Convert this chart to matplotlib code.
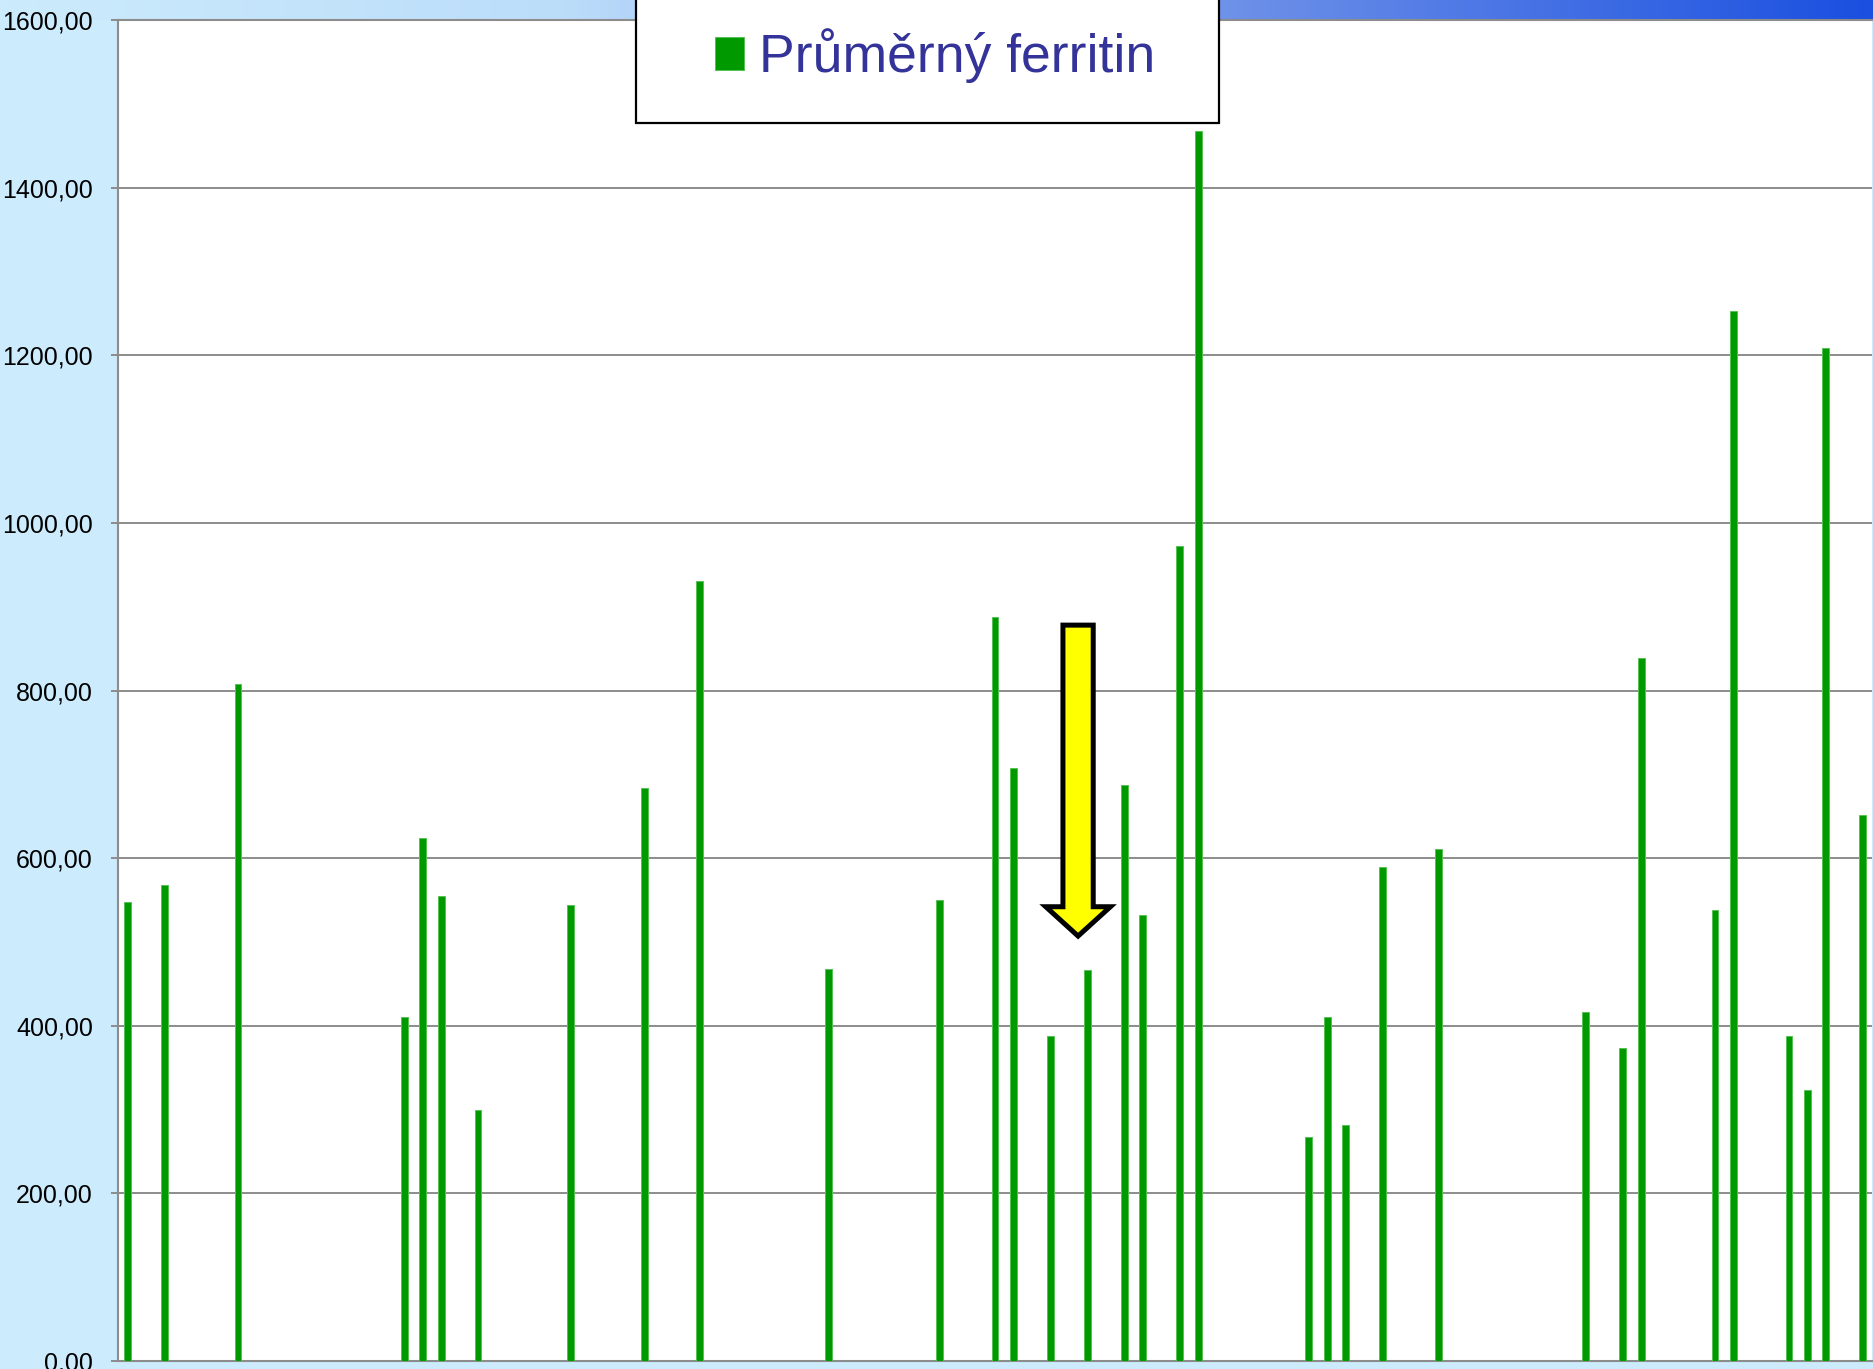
import numpy as np
import matplotlib.pyplot as plt
from matplotlib.colors import LinearSegmentedColormap
from matplotlib.patches import Polygon, Rectangle

plt.rcParams['font.family'] = ['Liberation Sans', 'DejaVu Sans']

# průměrný ferritin po pacientech (95 pozic, většina prázdných)
n_slots = 95
positions = [0, 2, 6, 15, 16, 17, 19, 24, 28, 31, 38, 44, 47, 48, 50, 52, 54, 55,
             57, 58, 64, 65, 66, 68, 71, 79, 81, 82, 86, 87, 90, 91, 92, 94]
ferritin = [548, 568, 808, 411, 624, 555, 300, 544, 684, 931, 468, 550, 888, 707,
            388, 467, 687, 532, 972, 1467, 267, 411, 281, 590, 611, 417, 373, 839,
            538, 1253, 388, 323, 1209, 652]
yticks = [0, 200, 400, 600, 800, 1000, 1200, 1400, 1600]
series_name = 'Průměrný ferritin'

W, H = 1874, 1369
fig = plt.figure(figsize=(W / 100, H / 100), dpi=100)
fig.patch.set_facecolor('#CCEBFC')

# horní pruh s přechodem do modré
band = fig.add_axes([0, 1 - 20 / H, 1, 20 / H], zorder=0)
cmap = LinearSegmentedColormap.from_list(
    'band', [(0, '#CCEBFC'), (0.3, '#BCDDFA'), (0.67, '#6B8FE8'), (1.0, '#1A4FE0')])
band.imshow(np.linspace(0, 1, 512)[None, :], cmap=cmap, aspect='auto',
            extent=[0, 1, 0, 1])
band.set_axis_off()

ax = fig.add_axes([118 / W, 8 / H, 1754 / W, 1341 / H], zorder=1)
ax.set_facecolor('white')

bars = ax.bar(positions, ferritin, width=0.37, color='#009900',
              edgecolor='#55C255', linewidth=0.7, label=series_name, zorder=3)

ax.set_xlim(-0.5, n_slots - 0.5)
ax.set_ylim(0, 1600)
ax.set_xticks([])
ax.set_yticks(yticks)
ax.set_yticklabels([f'{v:.2f}'.replace('.', ',') for v in yticks], fontsize=18)
ax.tick_params(axis='y', length=5, width=1.4, color='#8C8C8C', pad=13)
ax.yaxis.grid(True, color='#8C8C8C', linewidth=1.4)
ax.set_axisbelow(True)

for side in ['left', 'bottom', 'top']:
    ax.spines[side].set_color('#8C8C8C')
    ax.spines[side].set_linewidth(1.5)
ax.spines['right'].set_visible(False)

# žlutá šipka
xc, sw, hw = 51.5, 0.82, 1.75
y_top, y_base, y_tip = 878, 542, 507
arrow = Polygon([(xc - sw, y_top), (xc + sw, y_top), (xc + sw, y_base),
                 (xc + hw, y_base), (xc, y_tip), (xc - hw, y_base),
                 (xc - sw, y_base)], closed=True, facecolor='#FFFF00',
                edgecolor='black', linewidth=3.6, joinstyle='miter', zorder=5)
ax.add_patch(arrow)

# legenda v rámečku nahoře
frame = Rectangle((636 / W, 1 - 123 / H), 583 / W, 130 / H,
                  transform=fig.transFigure, facecolor='white',
                  edgecolor='black', linewidth=1.6, zorder=10)
fig.patches.append(frame)
leg = ax.legend(handles=[bars], loc='center', frameon=False,
                bbox_to_anchor=(935 / W, 1 - 56 / H),
                bbox_transform=fig.transFigure, fontsize=38.5,
                handlelength=0.55, handleheight=0.55, handletextpad=0.28,
                labelcolor='#333399')
leg.set_zorder(11)
fig.add_artist(leg)

fig.savefig('out.png', dpi=100, facecolor=fig.get_facecolor())
